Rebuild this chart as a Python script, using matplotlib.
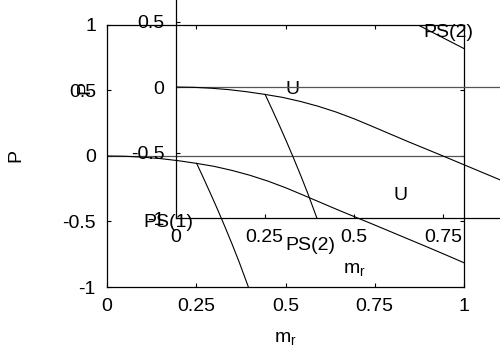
import matplotlib
matplotlib.use('Agg')
import matplotlib.pyplot as plt

plt.rcParams['font.family'] = ['Liberation Sans', 'DejaVu Sans']

# boundary curves
m_u = [0, 0.05, 0.1, 0.15, 0.2, 0.25, 0.3, 0.35, 0.4, 0.45, 0.5, 0.55,
       0.6, 0.65, 0.7, 0.75, 0.8, 0.85, 0.9, 0.95, 1.0]
p_u = [0, -0.002, -0.009, -0.020, -0.036, -0.056, -0.079, -0.110, -0.147,
       -0.191, -0.242, -0.299, -0.357, -0.415, -0.471, -0.527, -0.584,
       -0.641, -0.698, -0.756, -0.815]

m_ps = [0.251, 0.27, 0.29, 0.31, 0.33, 0.35, 0.37, 0.396]
p_ps = [-0.056, -0.167, -0.287, -0.410, -0.538, -0.670, -0.808, -1.0]

m_top = [0.85, 0.9, 0.95, 1.0]
p_top = [1.03, 0.96, 0.89, 0.82]

xticks = [0, 0.25, 0.5, 0.75, 1]
xlabels = ['0', '0.25', '0.5', '0.75', '1']
yticks = [-1, -0.5, 0, 0.5, 1]
ylabels = ['-1', '-0.5', '0', '0.5', '1']

# region labels (main data coords)
region_names = ['PS(1)', 'PS(2)', 'U', 'U', 'PS(2)']
region_m = [0.171, 0.571, 0.821, 0.521, 0.955]
region_p = [-0.504, -0.68, -0.30, 0.511, 0.94]

fs = 14


def setup(ax):
    ax.set_xlim(0, 1)
    ax.set_ylim(-1, 1)
    ax.set_xticks(xticks)
    ax.set_xticklabels(xlabels)
    ax.set_yticks(yticks)
    ax.set_yticklabels(ylabels)
    ax.tick_params(direction='in', length=3, width=0.8, top=True, right=True,
                   labelsize=fs, pad=8)
    for s in ax.spines.values():
        s.set_linewidth(0.9)
    ax.axhline(0, color='#555555', lw=0.9)
    ax.plot(m_u, p_u, color='black', lw=0.8)
    ax.plot(m_ps, p_ps, color='black', lw=0.8)
    ax.plot(m_top, p_top, color='black', lw=0.8)
    ax.text(0.5, -0.195, r'$\mathregular{m_r}$', transform=ax.transAxes,
            ha='center', va='center', fontsize=fs)
    ax.text(-0.255, 0.5, 'P', transform=ax.transAxes, rotation=90,
            ha='center', va='center', fontsize=fs)


fig = plt.figure(figsize=(5, 3.5), dpi=100)
ax = fig.add_axes([0.214, 0.18, 0.714, 0.7486])
setup(ax)

ax2 = fig.add_axes([0.351, 0.377, 0.714, 0.7486])
ax2.patch.set_visible(False)
setup(ax2)

for name, m, p in zip(region_names, region_m, region_p):
    ax.text(m, p, name, ha='center', va='center', fontsize=fs, clip_on=False)

fig.savefig('out.png', dpi=100)
